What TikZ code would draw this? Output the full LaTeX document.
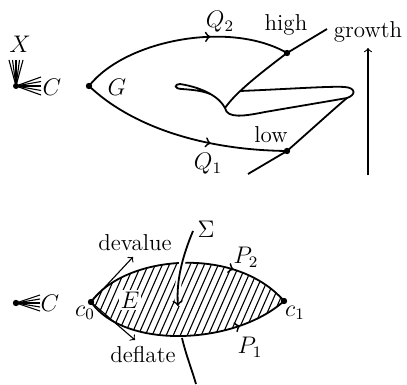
\documentclass[tikz,border=0pt]{standalone}
\usetikzlibrary{decorations.markings}

\tikzset{
  curve/.style={line width=0.9pt},
  thinline/.style={line width=0.55pt},
  midarrow/.style={postaction={decorate},
    decoration={markings,mark=at position #1 with {\arrow{>}}}},
}

\begin{document}
\begin{tikzpicture}[x=0.5pt,y=-0.5pt,font=\fontsize{11.5}{14}\selectfont]
    \useasboundingbox (0,0) rectangle (407,385);

    % Top picture: the bundle at C
    \coordinate (Xbase) at (16,86);
    \foreach \x in {9,12.5,16,19.5,23} \draw[thinline] (Xbase) -- (\x,60);
    \foreach \y in {77,81.5,86,90.5,95} \draw[thinline] (Xbase) -- (41,\y);
    \fill (Xbase) circle (1.5pt);
    \node (X) at (20,44) {$X$};
    \node (Ctop) at (52,87) {$C$};

    % Points
    \coordinate (G) at (89,86);
    \coordinate (high) at (287,53);
    \coordinate (low) at (287,151);
    \coordinate (cusp) at (225,108);
    \coordinate (tipb) at (347,98);

    % Paths Q1 and Q2
    \draw[curve,midarrow=0.63] (G) .. controls (125,40) and (230,20) .. (high);
    \draw[curve,midarrow=0.64] (G) .. controls (130,125) and (200,150) .. (low);

    % The folded sheet
    \draw[curve] (327,29) -- (high) .. controls (262,72) and (236,92) .. (cusp);
    \draw[curve] (cusp) .. controls (227,119) and (245,116) .. (265,112)
        .. controls (300,106) and (330,101) .. (tipb);
    \draw[curve] (240,91) .. controls (290,89) and (330,86) .. (345,87)
        .. controls (356,88) and (356,95) .. (tipb);
    \draw[curve] (248,174) -- (low) .. controls (312,129) and (335,108) .. (tipb);
    \draw[curve] (cusp) .. controls (220,98) and (205,88) .. (180,84)
        .. controls (174,84) and (174,89) .. (182,89)
        .. controls (195,90) and (203,91) .. (210,94);

    \fill (G) circle (1.6pt);
    \fill (high) circle (1.6pt);
    \fill (low) circle (1.6pt);

    % Labels
    \node (Glbl) at (117,87) {$G$};
    \node (Q2) at (220,22) {$Q_2$};
    \node (Q1) at (208,164) {$Q_1$};
    \node (highlbl) at (286,25) {high};
    \node (lowlbl) at (271,135) {low};
    \node (growth) at (368,32) {growth};

    % Growth axis
    \coordinate (gbot) at (368,175);
    \coordinate (gtop) at (368,48);
    \draw[thinline,->] (gbot) -- (gtop);

    % Bottom picture: the bundle at C
    \coordinate (Cbase) at (16,303);
    \foreach \y in {295,299,303,307,311} \draw[thinline] (Cbase) -- (40,\y);
    \fill (Cbase) circle (1.6pt);
    \node (Cbot) at (50,303) {$C$};

    \coordinate (c0) at (91,302);
    \coordinate (c1) at (284,301);

    % Hatched region E
    \begin{scope}
        \clip (c0) .. controls (125,255) and (235,245) .. (c1)
            .. controls (235,345) and (125,350) .. (c0);
        \foreach \x in {50,57,...,300} \draw[thinline] (\x,345) -- ++(44,-100);
    \end{scope}

    % P1 and P2
    \draw[curve,midarrow=0.72] (c0) .. controls (125,255) and (235,245) .. (c1);
    \draw[curve,midarrow=0.76] (c0) .. controls (125,350) and (235,345) .. (c1);

    % devalue and deflate
    \coordinate (devtip) at (133,257);
    \coordinate (deftip) at (135,340);
    \draw[thinline,->] (c0) -- (devtip);
    \draw[thinline,->] (c0) -- (deftip);

    % Sigma
    \coordinate (sigtop) at (193,231);
    \coordinate (sigtip) at (178,306);
    \draw[curve,->,preaction={draw,white,line width=3pt,-}] (sigtop)
        .. controls (183,255) and (176,280) .. (sigtip);
    \draw[curve] (182,338) .. controls (186,355) and (192,370) .. (196,384);

    \fill (c0) circle (1.6pt);
    \fill (c1) circle (1.6pt);

    % Labels
    \node (Sigma) at (206,229) {$\Sigma$};
    \node (devalue) at (135,243) {devalue};
    \node (deflate) at (143,355) {deflate};
    \node[fill=white,inner sep=1pt] (E) at (130,300) {$E$};
    \node (c0lbl) at (85,313) {$c_0$};
    \node (c1lbl) at (295,313) {$c_1$};
    \node (P2) at (246,257) {$P_2$};
    \node (P1) at (250,347) {$P_1$};
\end{tikzpicture}
\end{document}
